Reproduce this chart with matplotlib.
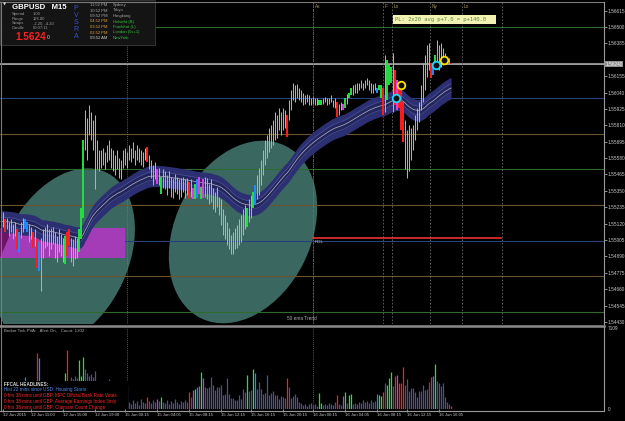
import matplotlib
matplotlib.use("Agg")
import matplotlib.pyplot as plt
import matplotlib.transforms as mtransforms
from matplotlib.lines import Line2D
from matplotlib.patches import Ellipse, Rectangle, Polygon
import numpy as np

plt.rcParams["font.family"] = ["Liberation Sans", "DejaVu Sans"]

W, H = 625, 421

# ---- data (GBPUSD M15) ----
highs = [
    1.5518, 1.5520, 1.5515, 1.5516, 1.5513, 1.5515, 1.5512, 1.5513, 1.5508, 1.5506,
    1.5513, 1.5516, 1.5515, 1.5513, 1.5512, 1.5510, 1.5506, 1.5508, 1.5501, 1.5499,
    1.5502, 1.5508, 1.5510, 1.5512, 1.5508, 1.5509, 1.5510, 1.5506, 1.5503, 1.5508,
    1.5505, 1.5502, 1.5503, 1.5506, 1.5508, 1.5502, 1.5501, 1.5503, 1.5502, 1.5508,
    1.5523, 1.5571, 1.5592, 1.5586, 1.5595, 1.5590, 1.5585, 1.5588, 1.5571, 1.5564,
    1.5564, 1.5565, 1.5562, 1.5567, 1.5571, 1.5565, 1.5564, 1.5560, 1.5564, 1.5558,
    1.5557, 1.5564, 1.5565, 1.5562, 1.5567, 1.5565, 1.5569, 1.5564, 1.5567, 1.5565,
    1.5564, 1.5562, 1.5565, 1.5566, 1.5560, 1.5557, 1.5553, 1.5555, 1.5550, 1.5551,
    1.5545, 1.5550, 1.5549, 1.5546, 1.5549, 1.5545, 1.5544, 1.5547, 1.5545, 1.5543,
    1.5544, 1.5545, 1.5543, 1.5544, 1.5541, 1.5543, 1.5537, 1.5540, 1.5543, 1.5545,
    1.5538, 1.5543, 1.5545, 1.5544, 1.5540, 1.5543, 1.5537, 1.5534, 1.5538, 1.5531,
    1.5529, 1.5522, 1.5518, 1.5513, 1.5509, 1.5504, 1.5506, 1.5509, 1.5511, 1.5515,
    1.5518, 1.5522, 1.5525, 1.5523, 1.5529, 1.5532, 1.5534, 1.5539, 1.5546, 1.5551,
    1.5557, 1.5564, 1.5571, 1.5574, 1.5579, 1.5581, 1.5585, 1.5590, 1.5588, 1.5593,
    1.5590, 1.5593, 1.5592, 1.5588, 1.5599, 1.5606, 1.5611, 1.5609, 1.5610, 1.5607,
    1.5606, 1.5604, 1.5602, 1.5603, 1.5602, 1.5600, 1.5601, 1.5600, 1.5600, 1.5599,
    1.5599, 1.5600, 1.5601, 1.5600, 1.5600, 1.5602, 1.5599, 1.5600, 1.5597, 1.5596,
    1.5597, 1.5596, 1.5600, 1.5603, 1.5604, 1.5607, 1.5609, 1.5610, 1.5611, 1.5611,
    1.5613, 1.5611, 1.5613, 1.5614, 1.5613, 1.5611, 1.5610, 1.5611, 1.5607, 1.5609,
    1.5609, 1.5607, 1.5630, 1.5627, 1.5623, 1.5622, 1.5632, 1.5620, 1.5613, 1.5609,
    1.5606, 1.5597, 1.5585, 1.5578, 1.5581, 1.5579, 1.5581, 1.5588, 1.5593, 1.5597,
    1.5609, 1.5625, 1.5630, 1.5637, 1.5639, 1.5625, 1.5625, 1.5630, 1.5641, 1.5637,
    1.5639, 1.5635, 1.5632, 1.5628, 1.5628, 1.5625,
]
lows = [
    1.5509, 1.5510, 1.5506, 1.5508, 1.5503, 1.5506, 1.5501, 1.5503, 1.5494, 1.5492,
    1.5502, 1.5506, 1.5508, 1.5506, 1.5499, 1.5501, 1.5495, 1.5496, 1.5481, 1.5479,
    1.5465, 1.5488, 1.5495, 1.5496, 1.5489, 1.5494, 1.5498, 1.5488, 1.5485, 1.5492,
    1.5489, 1.5485, 1.5484, 1.5489, 1.5496, 1.5485, 1.5482, 1.5487, 1.5488, 1.5492,
    1.5501, 1.5516, 1.5564, 1.5557, 1.5574, 1.5571, 1.5564, 1.5536, 1.5550, 1.5549,
    1.5551, 1.5553, 1.5550, 1.5555, 1.5557, 1.5551, 1.5549, 1.5546, 1.5550, 1.5544,
    1.5543, 1.5551, 1.5553, 1.5551, 1.5557, 1.5555, 1.5558, 1.5553, 1.5557, 1.5555,
    1.5553, 1.5552, 1.5557, 1.5555, 1.5550, 1.5544, 1.5539, 1.5543, 1.5540, 1.5539,
    1.5533, 1.5537, 1.5536, 1.5532, 1.5537, 1.5531, 1.5530, 1.5534, 1.5533, 1.5529,
    1.5531, 1.5534, 1.5530, 1.5532, 1.5529, 1.5531, 1.5529, 1.5529, 1.5530, 1.5533,
    1.5529, 1.5530, 1.5531, 1.5529, 1.5526, 1.5527, 1.5522, 1.5520, 1.5524, 1.5518,
    1.5511, 1.5504, 1.5501, 1.5497, 1.5494, 1.5491, 1.5491, 1.5494, 1.5495, 1.5497,
    1.5499, 1.5504, 1.5508, 1.5510, 1.5513, 1.5516, 1.5523, 1.5525, 1.5529, 1.5532,
    1.5539, 1.5546, 1.5553, 1.5558, 1.5562, 1.5565, 1.5567, 1.5571, 1.5572, 1.5578,
    1.5574, 1.5578, 1.5579, 1.5573, 1.5585, 1.5592, 1.5599, 1.5597, 1.5600, 1.5599,
    1.5597, 1.5595, 1.5596, 1.5597, 1.5595, 1.5595, 1.5596, 1.5595, 1.5595, 1.5595,
    1.5595, 1.5596, 1.5597, 1.5595, 1.5596, 1.5597, 1.5594, 1.5593, 1.5587, 1.5588,
    1.5592, 1.5592, 1.5593, 1.5596, 1.5600, 1.5602, 1.5602, 1.5604, 1.5604, 1.5606,
    1.5607, 1.5606, 1.5607, 1.5609, 1.5606, 1.5604, 1.5604, 1.5606, 1.5604, 1.5606,
    1.5600, 1.5588, 1.5590, 1.5599, 1.5609, 1.5611, 1.5590, 1.5595, 1.5592, 1.5593,
    1.5578, 1.5569, 1.5550, 1.5544, 1.5549, 1.5557, 1.5564, 1.5571, 1.5578, 1.5583,
    1.5592, 1.5597, 1.5606, 1.5615, 1.5620, 1.5614, 1.5616, 1.5622, 1.5623, 1.5620,
    1.5622, 1.5623, 1.5627, 1.5626, 1.5625, 1.5624,
]
volumes = [
    1800, 1500, 2100, 1700, 1900, 1600, 2200, 1800, 2400, 2300, 1700, 1900,
    2800, 2000, 1800, 2200, 2100, 1900,
    4900, 4500,
    2300, 2100, 1900, 2000, 2200, 1800, 2400, 2100, 1900, 2200, 2000, 2300,
    3200, 5200, 2500,
    2800, 2600, 2900, 2700,
    4300, 2900, 4600,
    3500, 3200, 2900, 3100, 2800, 3300,
    2400, 2200, 2500, 2100, 2300, 2000, 2600, 2200, 2100, 2400, 1900, 2300, 2000, 2200, 1800, 2100,
    600, 450, 800, 520, 700, 380, 900, 650, 500, 1050, 720, 560, 830, 610, 880,
    700, 1050, 640, 520, 780, 430, 690, 560, 900, 610, 470, 740, 580, 820, 650,
    1500, 1050, 1670, 1760, 1930, 2020, 3250, 2720,
    1930, 1850, 1930, 2810, 2110, 1670, 1930, 1930, 2110, 1230, 1320,
    2720, 1320, 960, 960, 760, 790, 1230, 850, 1760, 1500,
    2990, 1580, 1670, 3510, 3160,
    1760, 2370, 1760, 1320, 1410,
    2990, 1230, 1410, 1580, 1230, 1230, 880, 1140, 1050, 960,
    2720, 1930, 960, 1140, 1320, 1050, 610, 530,
    350, 450, 300, 400, 500, 350,
    420, 300, 1400, 520, 380, 460, 310, 550, 400, 350, 620, 1200, 480, 390, 1100,
    1500, 560, 1250, 1300, 480, 520, 450,
    650, 520, 780, 600, 700, 550, 800, 620, 720,
    1300, 1200, 1100,
    1500, 2290, 2110, 2720, 3250, 2020, 2900, 2990, 2290, 2290, 3690, 2110, 2640,
    1580, 1850, 1850, 1500, 1050, 1580,
    1580, 2110, 1670, 1760, 2370,
    2810, 2900, 3950,
    2460, 2290, 2020, 2290, 1050,
    600, 400, 300,
]
red_bars = [2, 8, 16, 18, 33, 34, 73, 94, 143, 168, 191, 197, 199, 200, 201, 215, 225]
blue_bars = [9, 12, 13, 19, 98, 127, 188, 216]
green_bars = [32, 39, 40, 41, 80, 97, 100, 123, 126, 159, 160, 172, 174, 175, 189, 190,
              193, 194, 195, 217]
magenta_bars = [78, 96, 99, 101, 171, 198]

ema_period = 50
vol_max = 7109
last_price = 1.56240
ask_price = 1.56250

quarter_levels = [1.5650, 1.5625, 1.5600, 1.5575, 1.5550, 1.5525, 1.5500, 1.5475, 1.5450]
price_ticks = [1.56615, 1.56500, 1.56385, 1.56155, 1.56040, 1.55925, 1.55810, 1.55695,
               1.55580, 1.55465, 1.55350, 1.55235, 1.55120, 1.55005, 1.54890, 1.54775,
               1.54660, 1.54545, 1.54430]
time_ticks = [1, 15, 31, 47, 62, 78, 94, 110, 125, 141, 156, 172, 188, 203, 219]
time_labels = ["12 Jun 2015", "12 Jun 11:00", "12 Jun 15:00", "12 Jun 19:00",
               "15 Jun 00:15", "15 Jun 04:05", "15 Jun 08:15", "15 Jun 12:15",
               "15 Jun 16:15", "15 Jun 20:15", "16 Jun 00:15", "16 Jun 04:05",
               "16 Jun 08:15", "16 Jun 12:15", "16 Jun 16:05"]
day_breaks = [63, 156]
session_bars = [156, 191, 195.5, 214.5, 230.5, 250.5]
session_names = ["As", "F", "Lo", "Ny", "Lo", ""]
zone_top, zone_bottom, zone_end = 1.5509, 1.5488, 62
rdl_price, rdl_start, rdl_end = 1.5502, 156, 250
cyan_x, cyan_y = [197.5, 217.5], [1.5600, 1.5623]
yellow_x, yellow_y = [200, 221.5], [1.5609, 1.5627]

# ---- figure ----
fig = plt.figure(figsize=(W / 100, H / 100), dpi=100, facecolor="#000000")
pix = mtransforms.Affine2D().scale(1 / W, -1 / H).translate(0, 1) + fig.transFigure


def box(x0, y0, x1, y1):
    return [x0 / W, 1 - y1 / H, (x1 - x0) / W, (y1 - y0) / H]


ax = fig.add_axes(box(0, 2, 604, 324))
vax = fig.add_axes(box(0, 328, 604, 409))
for a in (ax, vax):
    a.set_facecolor("#000000")
    for s in a.spines.values():
        s.set_visible(False)

n = len(highs)
xs = np.arange(n)
hi = np.array(highs)
lo = np.array(lows)

kind = ["g"] * n
for lst, k in ((red_bars, "r"), (blue_bars, "b"), (green_bars, "G"), (magenta_bars, "m")):
    for i in lst:
        kind[i] = k
price_col = {"g": "#b0b0b0", "r": "#ff1e1e", "b": "#1e8cff", "G": "#22e040", "m": "#e040e8"}
vol_col = {"g": "#50508e", "r": "#ff1e1e", "b": "#1e8cff", "G": "#22e040", "m": "#c040d8"}

# teal ellipses (drawn in screen pixels)
for cx, cy, w, h in ((65, 258, 190, 125), (243, 232, 192, 136)):
    ax.add_patch(Ellipse((cx, cy), w, h, angle=-64, transform=pix,
                         facecolor="#3b6761", edgecolor="none", zorder=1))

# magenta zone
ax.add_patch(Rectangle((-0.5, zone_bottom), zone_end + 0.5, zone_top - zone_bottom,
                       facecolor="#a33cb6", edgecolor="none", zorder=2))
ax.add_patch(Polygon([(-0.5, zone_top), (6, zone_top), (-0.5, zone_bottom)],
                     facecolor="#6c1466", edgecolor="none", zorder=2))

# quarter levels
for lvl in quarter_levels:
    frac = round(lvl * 10000) % 100
    c = "#26427c" if frac == 0 else ("#2e6a2e" if frac == 50 else "#6a5430")
    ax.axhline(lvl, color=c, lw=0.8, zorder=1.5)
ax.axhline(ask_price, color="#8a8a8a", lw=0.7, zorder=1.6)
ax.axhline(last_price, color="#a0a0a0", lw=0.7, zorder=1.6)

# separators / sessions
for b in day_breaks:
    for a in (ax, vax):
        a.axvline(b, color="#7a7a7a", lw=0.6, ls=(0, (1, 1.5)), zorder=1.7)
for b, name in zip(session_bars, session_names):
    ax.axvline(b, color="#6a6a6a", lw=0.6, ls=(0, (2, 2)), zorder=1.7)
    if name:
        ax.text(b + 1, 0.985, name, transform=ax.get_xaxis_transform(),
                color="#a09a5e", fontsize=3.4, va="center")

# RDL
ax.plot([rdl_start, rdl_end], [rdl_price, rdl_price], color="#ff3636", lw=1.1, zorder=3)
ax.text(rdl_start + 1, rdl_price - 0.00018, "RDL", color="#c8c8c8", fontsize=3.2,
        va="top", zorder=3)

# 50 ema ribbon
mids = (hi + lo) / 2
ema = np.empty(n)
ema[0] = mids[0]
k = 2 / (ema_period + 1)
for i in range(1, n):
    ema[i] = ema[i - 1] + k * (mids[i] - ema[i - 1])
ax.fill_between(xs, ema - 0.00075, ema + 0.00075, color="#2c3072", lw=0, zorder=4)
ax.fill_between(xs, ema - 0.0003, ema + 0.0003, color="#23265c", lw=0, zorder=4)
ax.plot(xs, ema - 0.0003, color="#4c5298", lw=0.5, zorder=4)
ax.plot(xs, ema + 0.0003, color="#4c5298", lw=0.5, zorder=4)
ax.plot(xs, ema, color="#b4b4c4", lw=0.5, zorder=4)

# price bars
plain = [i for i in range(n) if kind[i] == "g"]
ax.vlines(xs[plain], lo[plain], hi[plain], colors=price_col["g"], lw=0.75, zorder=5)
colored = [i for i in range(n) if kind[i] != "g"]
ax.vlines(xs[colored], lo[colored], hi[colored],
          colors=[price_col[kind[i]] for i in colored], lw=1.4, zorder=6)

# signal rings
ax.plot(cyan_x, cyan_y, "o", ms=5.5, mfc="#101010", mec="#20d8ff", mew=1.3, zorder=7)
ax.plot(yellow_x, yellow_y, "o", ms=5.5, mfc="#101010", mec="#ffe000", mew=1.3, zorder=7)

ax.set_xlim(-0.5, 301.5)
ax.set_ylim(1.54416, 1.56675)
ax.set_xticks([])
ax.yaxis.tick_right()
ax.set_yticks(price_ticks)
ax.set_yticklabels([f"{p:.5f}" for p in price_ticks])
ax.tick_params(axis="y", colors="#c8c8c8", labelsize=3.4, length=2, width=0.5, pad=0.8)

blend = mtransforms.blended_transform_factory(ax.transAxes, ax.transData)
ax.text(1.002, last_price, f"{last_price:.5f}", transform=blend, fontsize=3.4,
        color="#ffffff", va="center", ha="left", clip_on=False,
        bbox=dict(boxstyle="square,pad=0.2", facecolor="#8e8e8e", edgecolor="none"))

# volume
vax.vlines(xs, 0, volumes, colors=[vol_col[c] for c in kind], lw=0.9)
vax.set_xlim(-0.5, 301.5)
vax.set_ylim(0, vol_max)
vax.yaxis.tick_right()
vax.set_yticks([0, vol_max])
vax.set_yticklabels(["0", str(vol_max)])
vax.tick_params(axis="y", colors="#c8c8c8", labelsize=3.4, length=0, pad=3)
vax.set_xticks(time_ticks)
vax.set_xticklabels(time_labels)
vax.tick_params(axis="x", colors="#c8c8c8", labelsize=3.1, length=2, width=0.5, pad=1)
for lbl in vax.get_xticklabels():
    lbl.set_ha("left")
vax.add_patch(Rectangle((0, 381), 128, 29, transform=pix, facecolor="#000000",
                        edgecolor="none", zorder=5))

# frame lines
for (x0, y0, x1, y1, lw, c) in [(0, 2, 604, 2, 0.8, "#7a7a7a"),
                                (604, 2, 604, 411, 0.8, "#9a9a9a"),
                                (0.5, 2, 0.5, 411, 0.8, "#7a7a7a"),
                                (0, 325.5, 604, 325.5, 1.8, "#8a8a8a"),
                                (0, 410.5, 604, 410.5, 0.8, "#9a9a9a")]:
    fig.add_artist(Line2D([x0, x1], [y0, y1], transform=pix, lw=lw, color=c))

# header info box
fig.add_artist(Rectangle((0, 0), 155, 45, transform=pix, facecolor="#141414",
                         edgecolor="#3a3a3a", lw=0.6))
fig.text(3, 4, "\u25bc", transform=pix, color="#d0d0d0", fontsize=3, va="center",
         family="DejaVu Sans")
fig.text(12, 7.5, "GBPUSD   M15", transform=pix, color="#ffffff", fontsize=5.6,
         fontweight="bold", va="center")
info_rows = [("Spread", "1.00"), ("Range", "126.80"), ("Swaps", "-2.20, -4.20"),
             ("Candle", "00:07:11")]
for r, (lab, val) in enumerate(info_rows):
    fig.text(12, 14 + r * 4.6, lab, transform=pix, color="#9a9a9a", fontsize=3.0, va="center")
    fig.text(33, 14 + r * 4.6, val, transform=pix, color="#9a9a9a", fontsize=3.0, va="center")
fig.text(15, 36.5, "1.5624", transform=pix, color="#ff2020", fontsize=7.2,
         fontweight="bold", va="center")
fig.text(47, 37.5, "0", transform=pix, color="#d0d0d0", fontsize=3.6, va="center")
for j, ch in enumerate("PVSRA"):
    fig.text(76, 9 + j * 6.8, ch, transform=pix, color="#3452d4", fontsize=5, va="center",
             ha="center")
clock_rows = [("11:52 PM", "Sydney", "#a8a8a8", "#a8a8a8"),
              ("10:52 PM", "Tokyo", "#a8a8a8", "#a8a8a8"),
              ("09:52 PM", "Hongkong", "#a8a8a8", "#a8a8a8"),
              ("04:52 PM", "Helsinki (B)", "#e0a040", "#2ec43a"),
              ("03:52 PM", "Frankfurt (L)", "#e0a040", "#2ec43a"),
              ("02:52 PM", "London (0x+1)", "#e0a040", "#2ec43a"),
              ("09:52 AM", "NewYork", "#c8c8c8", "#2ec43a")]
for r, (t, name, ct, cn) in enumerate(clock_rows):
    fig.text(90, 5 + r * 5.5, t, transform=pix, color=ct, fontsize=3.0, va="center")
    fig.text(113, 5 + r * 5.5, name, transform=pix, color=cn, fontsize=3.0, va="center")

# profit label
fig.add_artist(Rectangle((393, 14.5), 103, 9, transform=pix, facecolor="#f2f2b2",
                         edgecolor="none"))
fig.text(395, 19, "PL: 2x20 avg p+7.0 = p+140.0", transform=pix, color="#5e8648",
         fontsize=4.0, va="center", family="DejaVu Sans Mono")

fig.text(302, 318, "50 ema Trend", transform=pix, color="#b0b0b0", fontsize=3.4,
         ha="center", va="center")
fig.text(4, 331, "Broker Tick PVA:   Alert On,   Count: 1302", transform=pix,
         color="#b0b0b0", fontsize=3.2, va="center")

headlines = [("FFCAL HEADLINES:", "#d8d8d8"),
             ("Hist 22 mins since USD: Housing Starts", "#4a8ef0"),
             ("0 hrs 38 mins until GBP: MPC Official Bank Rate Votes", "#ff2a2a"),
             ("0 hrs 38 mins until GBP: Average Earnings Index 3m/y", "#ff2a2a"),
             ("0 hrs 38 mins until GBP: Claimant Count Change", "#ff2a2a")]
for r, (txt, c) in enumerate(headlines):
    fig.text(4, 384 + r * 5.9, txt, transform=pix, color=c, fontsize=3.3, va="center",
             fontweight="bold" if r == 0 else "normal", zorder=6)

fig.savefig("out.png", dpi=100, facecolor="#000000")
